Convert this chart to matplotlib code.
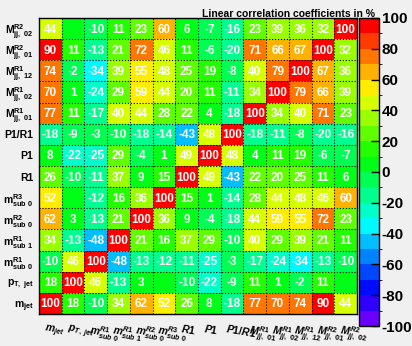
import matplotlib
matplotlib.use('Agg')
import matplotlib.pyplot as plt
import numpy as np
from matplotlib.colors import ListedColormap, BoundaryNorm, hsv_to_rgb

plt.rcParams['font.family'] = 'Liberation Sans'
plt.rcParams['mathtext.fontset'] = 'custom'
plt.rcParams['mathtext.rm'] = 'Liberation Sans:bold'
plt.rcParams['mathtext.it'] = 'Liberation Sans:italic:bold'
plt.rcParams['mathtext.bf'] = 'Liberation Sans:bold'

# variable names (x: italic labels, y: upright labels)
x_labels = [r'$\mathit{m_{jet}}$', r'$\mathit{p_{T,\ jet}}$',
            r'$\mathit{m^{R1}_{sub\ 0}}$', r'$\mathit{m^{R1}_{sub\ 1}}$',
            r'$\mathit{m^{R2}_{sub\ 0}}$', r'$\mathit{m^{R3}_{sub\ 0}}$',
            r'$\mathit{R1}$', r'$\mathit{P1}$', r'$\mathit{P1/R1}$',
            r'$\mathit{M^{R1}_{jj,\ 01}}$', r'$\mathit{M^{R1}_{jj,\ 02}}$',
            r'$\mathit{M^{R1}_{jj,\ 12}}$', r'$\mathit{M^{R2}_{jj,\ 01}}$',
            r'$\mathit{M^{R2}_{jj,\ 02}}$']
y_labels = [r'$\mathrm{m_{jet}}$', r'$\mathrm{p_{T,\ jet}}$',
            r'$\mathrm{m^{R1}_{sub\ 0}}$', r'$\mathrm{m^{R1}_{sub\ 1}}$',
            r'$\mathrm{m^{R2}_{sub\ 0}}$', r'$\mathrm{m^{R3}_{sub\ 0}}$',
            'R1', 'P1', 'P1/R1',
            r'$\mathrm{M^{R1}_{jj,\ 01}}$', r'$\mathrm{M^{R1}_{jj,\ 02}}$',
            r'$\mathrm{M^{R1}_{jj,\ 12}}$', r'$\mathrm{M^{R2}_{jj,\ 01}}$',
            r'$\mathrm{M^{R2}_{jj,\ 02}}$']

# correlation matrix in %, row i / column j follow the variable order above
corr = np.array([
    [100, 18, -10, 34, 62, 52, 26, 8, -18, 77, 70, 74, 90, 44],
    [18, 100, 46, -13, 3, 0, -10, -22, -9, 11, 1, -2, 11, 0],
    [-10, 46, 100, -48, -13, -12, -11, -25, -3, -17, -24, -34, -13, -10],
    [34, -13, -48, 100, 21, 16, 37, 29, -10, 40, 29, 39, 21, 11],
    [62, 3, -13, 21, 100, 36, 9, -4, -18, 44, 59, 55, 72, 23],
    [52, 0, -12, 16, 36, 100, 15, 1, -14, 28, 44, 48, 46, 60],
    [26, -10, -11, 37, 9, 15, 100, 49, -43, 22, 20, 25, 11, 6],
    [8, -22, -25, 29, -4, 1, 49, 100, 48, 4, 11, 19, -6, -7],
    [-18, -9, -3, -10, -18, -14, -43, 48, 100, -18, -11, -8, -20, -16],
    [77, 11, -17, 40, 44, 28, 22, 4, -18, 100, 34, 40, 71, 23],
    [70, 1, -24, 29, 59, 44, 20, 11, -11, 34, 100, 79, 66, 39],
    [74, -2, -34, 39, 55, 48, 25, 19, -8, 40, 79, 100, 67, 36],
    [90, 11, -13, 21, 72, 46, 11, -6, -20, 71, 66, 67, 100, 32],
    [44, 0, -10, 11, 23, 60, 6, -7, -16, 23, 39, 36, 32, 100],
])
levels = np.arange(-100, 101, 10)
cbar_ticks = np.arange(-100, 101, 20)

# 20-step rainbow palette: violet at -100 through green to red at +100
hues = np.linspace(265, 0, 20) / 360.0
pal = hsv_to_rgb(np.stack([hues, np.ones(20), np.ones(20)], axis=1))
cmap = ListedColormap(pal)
norm = BoundaryNorm(levels, cmap.N, clip=True)

bg = '#f0f0f0'
fig = plt.figure(figsize=(4.12, 3.46), dpi=100, facecolor=bg)
ax = fig.add_axes([0.0947, 0.0925, 0.7718, 0.8555])
n = len(x_labels)
mesh = ax.pcolormesh(np.arange(n + 1), np.arange(n + 1), np.minimum(corr, 99.9),
                     cmap=cmap, norm=norm)
for k in range(1, n):
    ax.axvline(k, color='black', ls=':', lw=0.8)
    ax.axhline(k, color='black', ls=':', lw=0.8)
for i in range(n):
    for j in range(n):
        v = corr[i, j]
        if v != 0:
            ax.text(j + 0.5, i + 0.45, str(v), ha='center', va='center',
                    color='white', fontsize=8.5, fontweight='bold')
ax.set_xlim(0, n)
ax.set_ylim(0, n)
ax.set_xticks([])
ax.set_yticks(np.arange(n) + 0.5)
ax.set_yticklabels(y_labels, fontsize=7.5, fontweight='bold')
ax.tick_params(axis='y', length=0, pad=4)
for s in ax.spines.values():
    s.set_linewidth(1.0)
for j, lab in enumerate(x_labels):
    ax.text(j + 0.3, -0.4, lab, ha='left', va='top', rotation=-10,
            fontsize=7.5, rotation_mode='anchor', transform=ax.transData)

cax = fig.add_axes([0.8714, 0.0578, 0.0485, 0.8902])
cb = fig.colorbar(mesh, cax=cax, boundaries=levels, ticks=cbar_ticks)
cb.outline.set_linewidth(1.0)
cax.tick_params(axis='y', direction='in', length=6, width=1, pad=2,
                labelsize=11)
for t in cax.get_yticklabels():
    t.set_fontweight('bold')
cax.set_yticklabels([str(t) for t in cbar_ticks])

fig.text(0.91, 0.975, 'Linear correlation coefficients in %', ha='right',
         va='top', fontsize=7.5, fontweight='bold')

fig.savefig('out.png', dpi=100, facecolor=bg)
